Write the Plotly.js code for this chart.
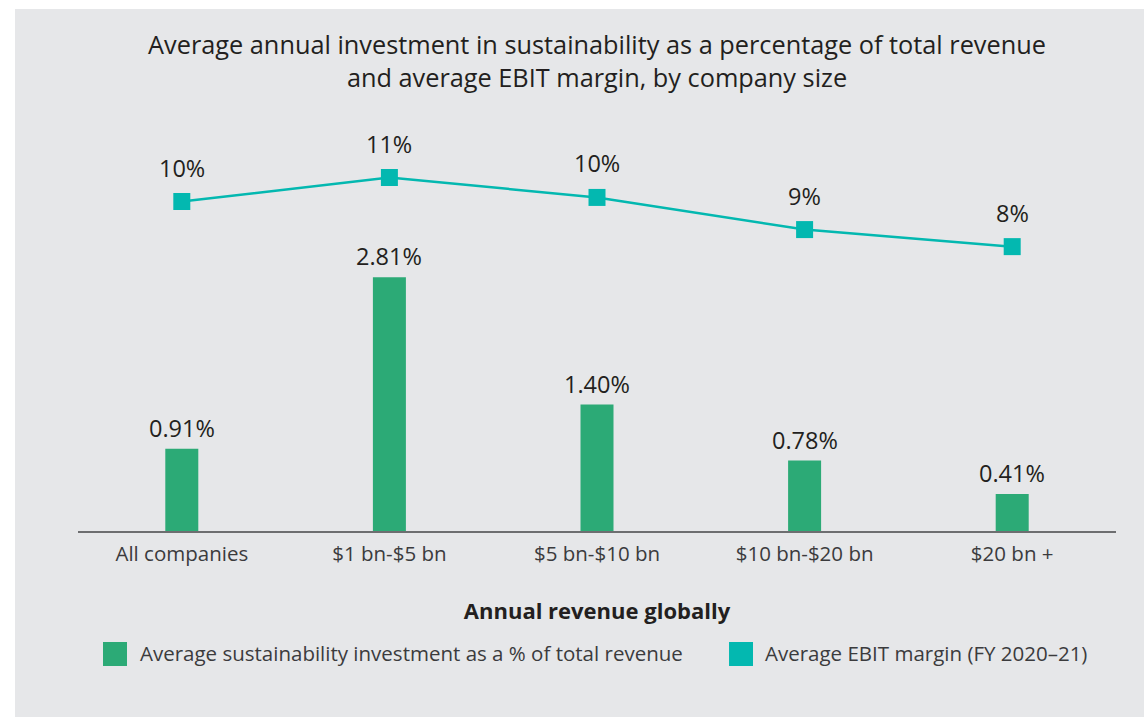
<!DOCTYPE html>
<html>
<head>
<meta charset="utf-8">
<script src="https://cdn.plot.ly/plotly-3.0.1.min.js"></script>
<style>
  html, body { margin: 0; padding: 0; background: #ffffff; width: 1144px; height: 717px; overflow: hidden; }
  #chart { position: absolute; left: 15px; top: 9px; width: 1129px; height: 708px; }
</style>
</head>
<body>
<div id="chart"></div>
<script>
// ---- data ----
const categories = ["All companies", "$1 bn-$5 bn", "$5 bn-$10 bn", "$10 bn-$20 bn", "$20 bn +"];
const investmentPct = [0.91, 2.81, 1.40, 0.78, 0.41];
const ebitMarginPct = [10.0, 11.0, 10.17, 8.83, 8.12];
const investmentLabels = ["0.91%", "2.81%", "1.40%", "0.78%", "0.41%"];
const ebitLabels = ["10%", "11%", "10%", "9%", "8%"];
const seriesNames = ["Average sustainability investment as a % of total revenue", "Average EBIT margin (FY 2020–21)"];
const titleText = "Average annual investment in sustainability as a percentage of total revenue<br>and average EBIT margin, by company size";
const xTitle = "Annual revenue globally";

// ---- style ----
const GREEN = "#2caa76";
const TEAL = "#03b8b0";
const BG = "#e6e7e9";
const TXT = "#231f20";
const TXT2 = "#3b3b3d";
const FONT = "Open Sans, Noto Sans, sans-serif";

const traces = [
  {
    type: "bar", x: categories, y: investmentPct, name: seriesNames[0],
    marker: { color: GREEN }, yaxis: "y", hoverinfo: "skip", showlegend: false
  },
  {
    type: "scatter", mode: "lines+markers", x: categories, y: ebitMarginPct, name: seriesNames[1],
    line: { color: TEAL, width: 2.5 }, marker: { color: TEAL, symbol: "square", size: 17 },
    yaxis: "y2", hoverinfo: "skip", showlegend: false
  }
];

const annotations = [];
categories.forEach((c, i) => {
  annotations.push({ x: c, y: investmentPct[i], xref: "x", yref: "y", text: investmentLabels[i],
    showarrow: false, yanchor: "bottom", yshift: 3, font: { family: FONT, size: 23.5, color: TXT } });
  annotations.push({ x: c, y: ebitMarginPct[i], xref: "x", yref: "y2", text: ebitLabels[i],
    showarrow: false, yanchor: "bottom", yshift: 16, font: { family: FONT, size: 23.5, color: TXT } });
});

// legend (custom, large squares)
const legendItems = [
  { color: GREEN, name: seriesNames[0], x0: 0.0241, tx: 0.0578 },
  { color: TEAL, name: seriesNames[1], x0: 0.6272, tx: 0.6599 }
];
const shapes = [];
legendItems.forEach(it => {
  shapes.push({ type: "rect", xref: "paper", yref: "paper", x0: it.x0, x1: it.x0 + 0.0231,
    y0: -0.3132, y1: -0.2575, fillcolor: it.color, line: { width: 0 } });
  annotations.push({ xref: "paper", yref: "paper", x: it.tx, y: -0.2820, xanchor: "left", yanchor: "middle",
    text: it.name, showarrow: false, font: { family: FONT, size: 20.5, color: TXT2 } });
});

const layout = {
  width: 1129, height: 708,
  paper_bgcolor: BG, plot_bgcolor: BG,
  margin: { l: 63, r: 28, t: 91, b: 186 },
  font: { family: FONT, color: TXT },
  title: { text: titleText, font: { family: FONT, size: 25.3, color: TXT },
    x: 0.5, xref: "paper", xanchor: "center", y: 0.936, yref: "container", yanchor: "top" },
  bargap: 0.841,
  xaxis: {
    type: "category", range: [-0.5, 4.5], showline: true, linecolor: "#6d6e70", linewidth: 2,
    ticks: "", showgrid: false, zeroline: false, tickfont: { family: FONT, size: 20.5, color: TXT2 },
    ticklabelstandoff: 3,
    title: { text: "<b>" + xTitle + "</b>", font: { family: FONT, size: 22, color: TXT }, standoff: 38 },
    fixedrange: true
  },
  yaxis: { range: [0, 4.773], visible: false, showgrid: false, zeroline: false, fixedrange: true },
  yaxis2: { range: [-3.73, 14.23], overlaying: "y", side: "right", visible: false, showgrid: false, zeroline: false, fixedrange: true },
  showlegend: false,
  annotations: annotations,
  shapes: shapes
};

Plotly.newPlot("chart", traces, layout, { displayModeBar: false, staticPlot: true });
</script>
</body>
</html>
